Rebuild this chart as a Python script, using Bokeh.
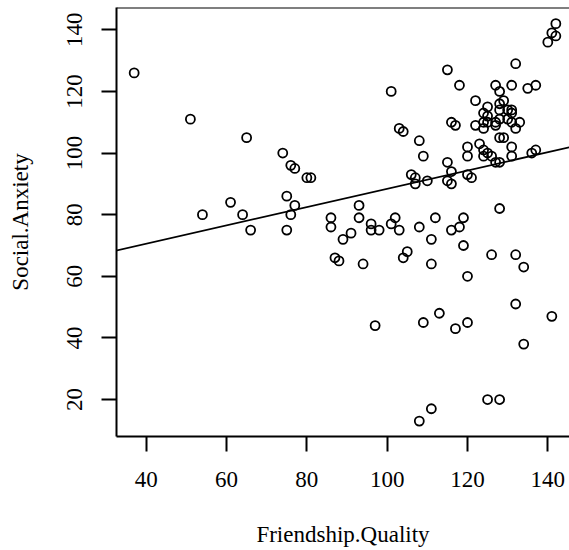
from bokeh.plotting import figure
from bokeh.models import Range1d, FixedTicker, Slope, Span
from bokeh.embed import file_html
from bokeh.resources import INLINE

# Data
friendship_quality = [
    37, 51, 65, 74, 76, 77, 80, 81, 75, 77, 76, 61, 54, 64, 86, 66, 75, 86, 89, 87, 88,
    93, 93, 96, 96, 98, 91, 94, 101, 102, 103, 108, 112, 111, 105, 104, 111, 116, 118, 119,
    119, 120, 126, 132, 134, 132, 141, 134, 97, 109, 113, 117, 120, 125, 128, 111, 108, 128,
    142, 141, 142, 140, 132, 115, 118, 101, 127, 131, 135, 137, 128, 122, 103, 104, 108, 109,
    115, 116, 106, 107, 107, 110, 115, 116, 120, 121, 120, 120, 123, 124, 125, 126, 124, 127,
    128, 131, 131, 136, 137, 128, 129, 132, 133, 116, 117, 122,
    125, 124, 128, 129, 128, 130, 131, 125, 124, 125, 127, 128, 130, 131, 124, 127, 131,
]
social_anxiety = [
    126, 111, 105, 100, 96, 95, 92, 92, 86, 83, 80, 84, 80, 80, 79, 75, 75, 76, 72, 66, 65,
    83, 79, 77, 75, 75, 74, 64, 77, 79, 75, 76, 79, 72, 68, 66, 64, 75, 76, 79,
    70, 60, 67, 67, 63, 51, 47, 38, 44, 45, 48, 43, 45, 20, 20, 17, 13, 82,
    142, 139, 138, 136, 129, 127, 122, 120, 122, 122, 121, 122, 120, 117, 108, 107, 104, 99,
    97, 94, 93, 92, 90, 91, 91, 90, 93, 92, 102, 99, 103, 101, 100, 99, 99, 97,
    97, 102, 99, 100, 101, 105, 105, 108, 110, 110, 109, 109,
    115, 113, 116, 117, 114, 114, 113, 112, 110, 110, 110, 111, 111, 110, 108, 109, 114,
]

x_ticks = [40, 60, 80, 100, 120, 140]
y_ticks = [20, 40, 60, 80, 100, 120, 140]

# Fitted regression line
fit_intercept = 58.7
fit_slope = 0.297

x_limits = (32.6, 145.4)
y_limits = (8.0, 147.24)

FONT = "Liberation Serif"
FS = "23px"

p = figure(
    width=569, height=550,
    output_backend="svg", toolbar_location=None,
    x_range=Range1d(*x_limits), y_range=Range1d(*y_limits),
    min_border_left=116, min_border_right=0, min_border_top=7, min_border_bottom=114,
    outline_line_color=None,
    background_fill_color="white", border_fill_color="white",
)
p.grid.visible = False

p.scatter(friendship_quality, social_anxiety, marker="circle", size=9,
          fill_color=None, line_color="black", line_width=1.8)

p.add_layout(Slope(gradient=fit_slope, y_intercept=fit_intercept,
                   line_color="black", line_width=1.8))
p.add_layout(Span(location=y_limits[1], dimension="width",
                  line_color="black", line_width=2))

xa = p.xaxis[0]
ya = p.yaxis[0]
xa.ticker = FixedTicker(ticks=x_ticks)
ya.ticker = FixedTicker(ticks=y_ticks)
xa.axis_label = "Friendship.Quality"
ya.axis_label = "Social.Anxiety"
ya.major_label_orientation = "vertical"

for ax in (xa, ya):
    ax.axis_line_color = "black"
    ax.axis_line_width = 2
    ax.major_tick_line_color = "black"
    ax.major_tick_line_width = 2
    ax.major_tick_out = 15
    ax.major_tick_in = 0
    ax.minor_tick_line_color = None
    ax.major_label_text_font = FONT
    ax.major_label_text_font_size = FS
    ax.major_label_text_color = "black"
    ax.axis_label_text_font = FONT
    ax.axis_label_text_font_size = FS
    ax.axis_label_text_font_style = "normal"
    ax.axis_label_text_color = "black"

xa.major_label_standoff = 20
xa.axis_label_standoff = 32
ya.major_label_standoff = 19
ya.axis_label_standoff = 32

open("out.html", "w").write(file_html(p, INLINE))
